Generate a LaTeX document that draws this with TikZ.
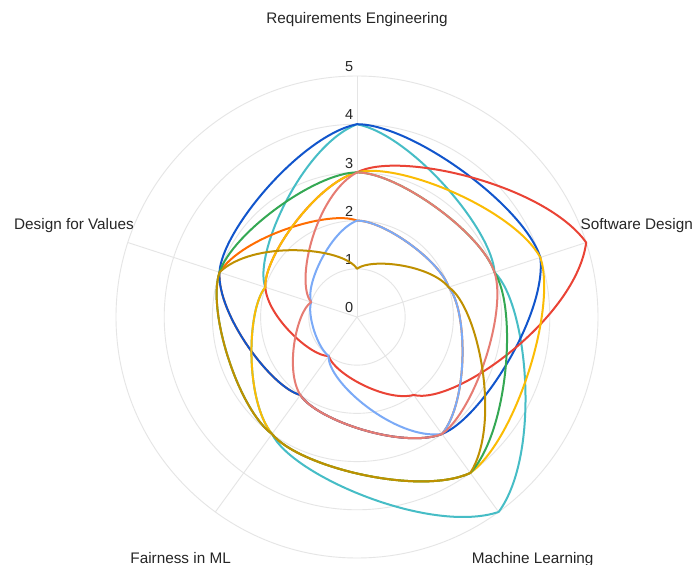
\documentclass[tikz,border=0pt]{standalone}
\usepackage{fontspec}
\setmainfont{Liberation Sans}
\usepackage{tikz}
\usetikzlibrary{calc}
\definecolor{sblue}{HTML}{1155CC}
\definecolor{sred}{HTML}{EA4335}
\definecolor{syellow}{HTML}{FBBC04}
\definecolor{sgreen}{HTML}{34A853}
\definecolor{sorange}{HTML}{FF6D01}
\definecolor{steal}{HTML}{46BDC6}
\definecolor{slightblue}{HTML}{7BAAF7}
\definecolor{ssalmon}{HTML}{E67C73}
\definecolor{solive}{HTML}{BF9000}
\tikzstyle{gridline} = [draw=black!10, line width=0.9pt]
\tikzstyle{series} = [line width=2pt, line join=round, line cap=round]
\tikzstyle{axislabel} = [inner sep=0pt, text=black!85, font=\fontsize{15.3}{18}\selectfont]
\tikzstyle{ticklabel} = [inner sep=0pt, anchor=base east, text=black!85, font=\fontsize{14.5}{17}\selectfont]
% one closed curve, values in the order RE, SD, ML, FML, DfV
\newcommand{\radarline}[6]{%
  \draw[series, draw=#1] (90:#2) \foreach \ra/\rb [count=\i from 0] in {#2/#3,#3/#4,#4/#5,#5/#6,#6/#2}
    { .. controls ($({90-72*\i}:{\ra+0.2267*(\rb-\ra)})+({-72*\i}:{0.2848*\ra})$)
      and ($({18-72*\i}:{\rb-0.2267*(\rb-\ra)})+({108-72*\i}:{0.2848*\rb})$) .. ({18-72*\i}:\rb) };
}

\begin{document}
\begin{tikzpicture}[x=48.2pt, y=48.2pt]
\useasboundingbox[fill=white] (-7.407,-5.145) rectangle (6.992,6.577);
% grid
\foreach \k in {1,...,5}
  \draw[gridline] (0,0) circle (\k);
\foreach \a in {90,18,-54,-126,162}
  \draw[gridline] (0,0) -- (\a:5);
\foreach \k in {0,...,5}
  \node[ticklabel] (t\k) at (-0.073, {\k+0.089}) {\k};
% axis labels
\node[axislabel, anchor=base] (re) at (0, 6.079) {Requirements Engineering};
\node[axislabel, anchor=base east] (sd) at (6.972, 1.820) {Software Design};
\node[axislabel, anchor=base west] (ml) at (2.380, -5.104) {Machine Learning};
\node[axislabel, anchor=base east] (fml) at (-2.614, -5.104) {Fairness in ML};
\node[axislabel, anchor=base east] (dfv) at (-4.627, 1.805) {Design for Values};
% series
\radarline{steal}{4}{3}{5}{3}{2}
\radarline{sorange}{2}{2}{3}{2}{3}
\radarline{sblue}{4}{4}{3}{2}{3}
\radarline{sred}{3}{5}{2}{1}{2}
\radarline{syellow}{3}{4}{4}{3}{2}
\radarline{sgreen}{3}{3}{4}{3}{3}
\radarline{slightblue}{2}{2}{3}{1}{1}
\radarline{ssalmon}{3}{3}{3}{2}{1}
\radarline{solive}{1}{2}{4}{3}{3}
\end{tikzpicture}
\end{document}
